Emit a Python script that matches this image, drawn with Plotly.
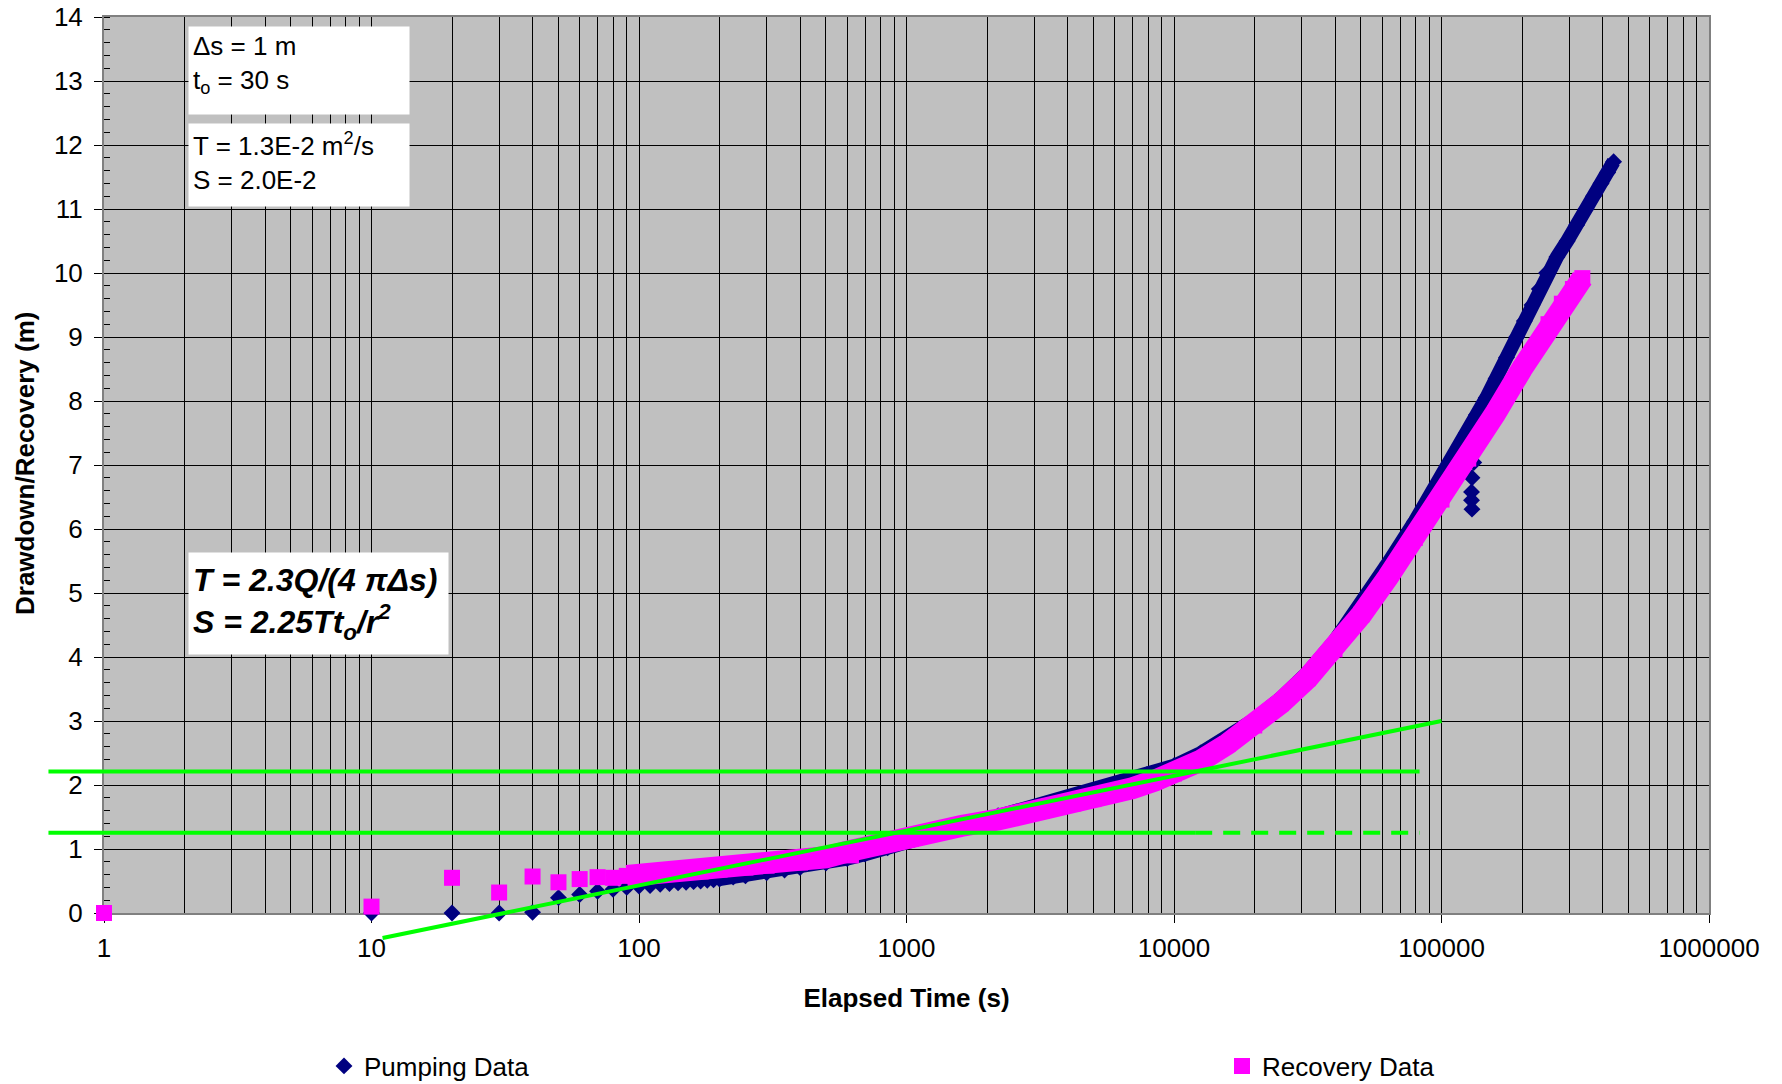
import plotly.graph_objects as go

# ---------------- data ----------------
# Pumping data (elapsed time s, drawdown m)
pump_t = [10, 20, 30, 40, 50, 60, 70, 80, 90, 100, 110, 120, 130, 140, 150, 160, 170, 180, 190, 200,
          225, 250, 300, 350, 400, 500, 600, 700, 850, 1000, 1300, 1600, 2200, 3200, 4500, 5800, 7000,
          7900, 10000, 12590, 15850, 19950, 25120, 31620, 39810, 50120, 63100, 79430, 100000,
          115000, 124000, 135000, 147000, 160000, 175000, 191000, 204000, 218000, 232000, 247000,
          270000, 295000, 320000, 347000, 370000, 395000, 418000, 440000]
pump_s = [0.0, 0.0, 0.0, 0.01, 0.24, 0.29, 0.34, 0.37, 0.40, 0.42, 0.43, 0.45, 0.46, 0.47, 0.48, 0.49,
          0.50, 0.51, 0.52, 0.53,
          0.56, 0.58, 0.63, 0.67, 0.71, 0.78, 0.85, 0.92, 1.02, 1.12, 1.26, 1.37, 1.52, 1.68, 1.85, 1.99,
          2.08, 2.16, 2.30, 2.50, 2.74, 3.02, 3.36, 3.76, 4.25, 4.83, 5.47, 6.12, 6.80,
          7.25, 7.50, 7.78, 8.05, 8.35, 8.68, 9.00, 9.25, 9.50, 9.75, 10.00,
          10.25, 10.50, 10.75, 11.00, 11.20, 11.40, 11.57, 11.74]
# isolated pumping points near 1.3E5 s
pump_stack_t = [134000, 132000, 130000, 129500, 129500, 130000]
pump_stack_s = [7.26, 7.04, 6.80, 6.58, 6.45, 6.31]

# Recovery data (elapsed time s, recovery m)
rec_t = [1, 10, 20, 30, 40, 50, 60, 70, 80, 90, 100, 110, 120, 130, 140, 150, 170, 200, 250, 300, 400,
         500, 600, 700, 800, 1000, 1300, 1600, 2200, 3200, 4200, 5000, 6000, 7000, 8500, 10000, 12590,
         15850, 19950, 25120, 31620, 39810, 50120, 63100, 79430, 100000, 125900, 158500, 199500,
         251200, 281800, 310000, 336000]
rec_s = [0.0, 0.10, 0.55, 0.32, 0.57, 0.48, 0.53, 0.56, 0.55, 0.58, 0.60, 0.61, 0.62, 0.62, 0.63, 0.64,
         0.65, 0.68, 0.71, 0.74, 0.79, 0.87, 0.96, 1.03, 1.08, 1.18, 1.28, 1.36, 1.46, 1.60, 1.71, 1.78,
         1.87, 1.95, 2.07, 2.18, 2.38, 2.64, 2.93, 3.28, 3.67, 4.12, 4.66, 5.25, 5.86, 6.46, 7.10, 7.80,
         8.50, 9.20, 9.52, 9.75, 9.92]
rec_extra_t = [620]
rec_extra_s = [0.90]

# Straight-line (Cooper-Jacob) fit
fit_t = [11, 100000]
fit_s = [-0.39, 3.0]

# Horizontal reference lines (level, start, end of solid part, end)
ref_levels = [2.21, 1.255]
ref_t_start = [0.62, 0.62]
ref_t_solid_end = [82800, 12000]
ref_t_end = [82800, 82800]

x_tick_vals = [1, 10, 100, 1000, 10000, 100000, 1000000]
x_tick_text = ["1", "10", "100", "1000", "10000", "100000", "1000000"]
y_tick_vals = list(range(0, 15))

# ---------------- styling / geometry ----------------
NAVY = "#000080"
MAG = "#FF00FF"
GREEN = "#00FF00"
FONT = "Liberation Sans, Arial, sans-serif"

W, H = 1782, 1084
plot_l, plot_r, plot_t, plot_b = 104, 1709, 17, 913
outer_l, outer_b = 40, 954
paper_w = plot_r - outer_l
paper_h = outer_b - plot_t
dx0 = (plot_l - outer_l) / paper_w
dy0 = (outer_b - plot_b) / paper_h
x_range = [0, 6]
y_range = [0, 14]
x2_range = [x_range[0] - (x_range[1] - x_range[0]) * dx0 / (1 - dx0), x_range[1]]
y2_range = [y_range[0] - (y_range[1] - y_range[0]) * dy0 / (1 - dy0), y_range[1]]

fig = go.Figure()

# pumping band (dense data) and markers
pb = [(t, s) for t, s in zip(pump_t, pump_s) if t >= 200]
fig.add_trace(go.Scatter(x=[p[0] for p in pb], y=[p[1] for p in pb], mode="lines",
                         line=dict(color=NAVY, width=14), showlegend=False, hoverinfo="skip"))
fig.add_trace(go.Scatter(x=pump_t + pump_stack_t, y=pump_s + pump_stack_s, mode="markers",
                         marker=dict(symbol="diamond", size=13, color=NAVY),
                         name="Pumping Data", legend="legend", cliponaxis=False))
# recovery band and markers
rb = [(t, s) for t, s in zip(rec_t, rec_s) if t >= 90]
fig.add_trace(go.Scatter(x=[p[0] for p in rb], y=[p[1] for p in rb], mode="lines",
                         line=dict(color=MAG, width=22), showlegend=False, hoverinfo="skip"))
fig.add_trace(go.Scatter(x=rec_t + rec_extra_t, y=rec_s + rec_extra_s, mode="markers",
                         marker=dict(symbol="square", size=16, color=MAG),
                         name="Recovery Data", legend="legend2", cliponaxis=False))

# green analysis lines on an overlay subplot reaching beyond the frame
fig.add_trace(go.Scatter(x=fit_t, y=fit_s, xaxis="x2", yaxis="y2", mode="lines",
                         line=dict(color=GREEN, width=4), showlegend=False, hoverinfo="skip"))
for lv, t0, t1, t2 in zip(ref_levels, ref_t_start, ref_t_solid_end, ref_t_end):
    fig.add_trace(go.Scatter(x=[t0, t1], y=[lv, lv], xaxis="x2", yaxis="y2", mode="lines",
                             line=dict(color=GREEN, width=4), showlegend=False, hoverinfo="skip"))
    if t2 > t1:
        fig.add_trace(go.Scatter(x=[t1, t2], y=[lv, lv], xaxis="x2", yaxis="y2", mode="lines",
                                 line=dict(color=GREEN, width=4, dash="17px,11px"),
                                 showlegend=False, hoverinfo="skip"))

# gray plot background
fig.add_shape(type="rect", xref="x domain", yref="y domain", x0=0, x1=1, y0=0, y1=1,
              fillcolor="#C0C0C0", line=dict(width=0), layer="below")

tick_font = dict(family=FONT, size=26, color="black")
fig.update_layout(
    width=W, height=H, autosize=False,
    margin=dict(l=outer_l, r=W - plot_r, t=plot_t, b=H - outer_b, autoexpand=False),
    paper_bgcolor="white", plot_bgcolor="rgba(0,0,0,0)",
    font=dict(family=FONT, size=26, color="black"),
    xaxis=dict(type="log", range=x_range, domain=[dx0, 1], anchor="y",
               tickvals=x_tick_vals, ticktext=x_tick_text, tickfont=tick_font,
               ticks="outside", ticklen=8, tickcolor="black", tickwidth=1, ticklabelstandoff=3,
               showgrid=True, gridcolor="#000000", gridwidth=1,
               minor=dict(dtick="D1", showgrid=True, gridcolor="#000000", gridwidth=1, ticks=""),
               showline=True, linecolor="#808080", linewidth=2, mirror=True,
               zeroline=False, layer="below traces", automargin=False,
               title=dict(text="<b>Elapsed Time (s)</b>", font=dict(family=FONT, size=26), standoff=27)),
    yaxis=dict(range=y_range, domain=[dy0, 1], anchor="x",
               tickvals=y_tick_vals, tickfont=tick_font,
               ticks="outside", ticklen=8, tickcolor="black", tickwidth=1, ticklabelstandoff=6,
               showgrid=True, gridcolor="#000000", gridwidth=1,
               minor=dict(dtick=0.2, ticks="inside", ticklen=6, tickcolor="black", showgrid=False),
               showline=True, linecolor="#808080", linewidth=2, mirror=True,
               zeroline=False, layer="below traces", automargin=False),
    xaxis2=dict(type="log", range=x2_range, domain=[0, 1], anchor="y2", visible=False, fixedrange=True),
    yaxis2=dict(range=y2_range, domain=[0, 1], anchor="x2", visible=False, fixedrange=True),
    legend=dict(xref="container", yref="container", x=324 / W, y=1 - 1066 / H,
                xanchor="left", yanchor="middle", font=dict(family=FONT, size=26),
                bgcolor="rgba(0,0,0,0)"),
    legend2=dict(xref="container", yref="container", x=1222 / W, y=1 - 1066 / H,
                 xanchor="left", yanchor="middle", font=dict(family=FONT, size=26),
                 bgcolor="rgba(0,0,0,0)"),
    showlegend=True,
)

plot_w = plot_r - plot_l
plot_h = plot_b - plot_t


def fx(px):
    return (px - plot_l) / plot_w


def fy(py):
    return (plot_b - py) / plot_h


# y-axis title
fig.add_annotation(xref="x domain", yref="y domain", x=fx(25), y=fy(464), xanchor="center",
                   yanchor="middle", textangle=-90, showarrow=False,
                   text="<b>Drawdown/Recovery (m)</b>", font=dict(family=FONT, size=26, color="black"))

box_font = dict(family=FONT, size=26, color="black")
fig.add_annotation(xref="x domain", yref="y domain", x=fx(188), y=fy(26), xanchor="left", yanchor="top",
                   text="Δs = 1 m<br>t<sub>o</sub> = 30 s", align="left", valign="top",
                   width=212, height=79, borderpad=4, bgcolor="white", showarrow=False, font=box_font)
fig.add_annotation(xref="x domain", yref="y domain", x=fx(188), y=fy(123), xanchor="left", yanchor="top",
                   text="T = 1.3E-2 m<sup>2</sup>/s<br>S = 2.0E-2", align="left", valign="top",
                   width=212, height=74, borderpad=4, bgcolor="white", showarrow=False, font=box_font)
fig.add_annotation(xref="x domain", yref="y domain", x=fx(188), y=fy(552), xanchor="left", yanchor="top",
                   text="<b><i>T = 2.3Q/(4 πΔs)</i></b><br><b><i>S = 2.25Tt<sub>o</sub>/r<sup>2</sup></i></b>",
                   align="left", valign="middle",
                   width=251, height=93, borderpad=4, bgcolor="white", showarrow=False,
                   font=dict(family=FONT, size=32, color="black"))

fig.write_html("out.html", post_script="document.body.style.margin='0';",
               config={"displayModeBar": False})
